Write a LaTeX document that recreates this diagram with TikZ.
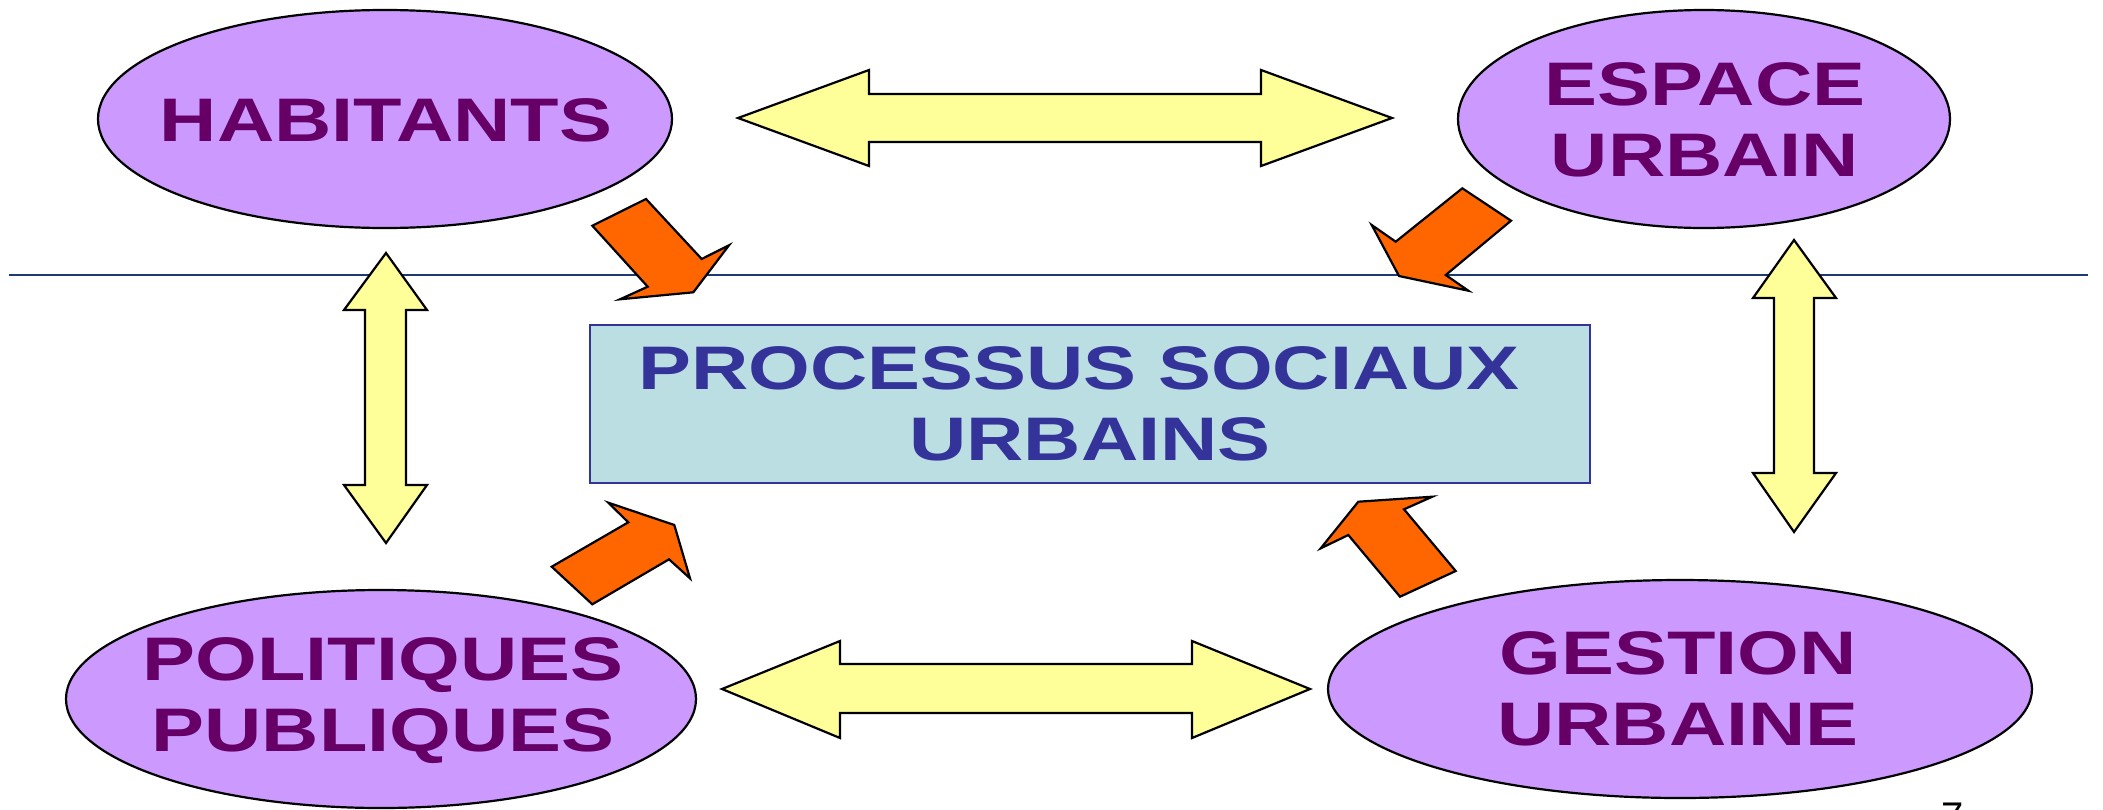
\documentclass[tikz,border=0pt]{standalone}
\usepackage{fontspec}
\setmainfont{Liberation Sans}
\usepackage{graphicx}
\definecolor{ellfill}{HTML}{CC99FF}
\definecolor{elltxt}{HTML}{660066}
\definecolor{rectfill}{HTML}{BBDEE3}
\definecolor{rectline}{HTML}{333399}
\definecolor{yfill}{HTML}{FFFF99}
\definecolor{ofill}{HTML}{FF6600}
\definecolor{rulecol}{HTML}{1F3A6E}
\newcommand{\widetxt}[1]{\scalebox{1.29}[1]{#1}}
\tikzset{
  ellbox/.style={draw=black, line width=2.2pt, fill=ellfill},
  elltext/.style={text=elltxt, font=\fontsize{61.5}{71}\selectfont\bfseries, align=center, inner sep=0pt},
  procbox/.style={draw=rectline, line width=2pt, fill=rectfill, inner sep=0pt,
    minimum width=1000pt, minimum height=158pt, text=rectline,
    font=\fontsize{61.5}{71}\selectfont\bfseries, align=center},
  ybar/.style={draw=black, line width=2.2pt, fill=yfill, line join=miter},
  oarrow/.style={draw=black, line width=2.2pt, fill=ofill, line join=miter},
}
\begin{document}
\begin{tikzpicture}[x=1pt,y=-1pt]
\useasboundingbox (0,0) rectangle (2103,809);
% horizontal rule
\coordinate (ruleL) at (9,275);
\coordinate (ruleR) at (2088,275);
\draw[rulecol, line width=1.5pt] (ruleL) -- (ruleR);

% ellipses
\coordinate (habc) at (385,119);
\coordinate (espc) at (1704,119);
\coordinate (polc) at (381,699);
\coordinate (gesc) at (1680,689);
\draw[ellbox] (habc) ellipse [x radius=287pt, y radius=109pt];
\draw[ellbox] (espc) ellipse [x radius=246pt, y radius=109pt];
\draw[ellbox] (polc) ellipse [x radius=315pt, y radius=109pt];
\draw[ellbox] (gesc) ellipse [x radius=352pt, y radius=109pt];
\node[elltext] (hab) at (386,120) {\widetxt{HABITANTS}};
\node[elltext] (esp) at (1705,120) {\widetxt{ESPACE}\\\widetxt{URBAIN}};
\node[elltext] (pol) at (383,701) {\widetxt{POLITIQUES}\\\widetxt{PUBLIQUES}};
\node[elltext] (ges) at (1678,689) {\widetxt{GESTION}\\\widetxt{URBAINE}};

% central box
\node[procbox] (proc) at (1090,403.5) {\widetxt{PROCESSUS SOCIAUX\ }\\\widetxt{URBAINS}};

% yellow double arrows
\draw[ybar] (738,118) -- (869,70) -- (869,94) -- (1261,94) -- (1261,70) -- (1392,118)
  -- (1261,166) -- (1261,142) -- (869,142) -- (869,166) -- cycle;
\draw[ybar] (722,689) -- (840,641) -- (840,664) -- (1192,664) -- (1192,641) -- (1310,689)
  -- (1192,738) -- (1192,713) -- (840,713) -- (840,738) -- cycle;
\draw[ybar] (386,253) -- (427,310) -- (406,310) -- (406,485) -- (427,485) -- (386,543)
  -- (344,485) -- (365,485) -- (365,310) -- (344,310) -- cycle;
\draw[ybar] (1794,240) -- (1836,298) -- (1814,298) -- (1814,473) -- (1836,473) -- (1794,532)
  -- (1753,473) -- (1774,473) -- (1774,298) -- (1753,298) -- cycle;

% orange arrows
\draw[oarrow] (592.3,225.7) -- (646,199) -- (701.7,259) -- (729,245.3) -- (693.3,292.3)
  -- (620,299.3) -- (647.7,286.7) -- cycle;
\draw[oarrow] (1462.3,188.3) -- (1511,220.7) -- (1445.7,275) -- (1468.3,290.7) -- (1399,276)
  -- (1371.7,225) -- (1395.7,241.7) -- cycle;
\draw[oarrow] (1400,596.7) -- (1455.7,571) -- (1404,509.3) -- (1432.3,496.7) -- (1358.3,501.7)
  -- (1320.7,548.3) -- (1348.3,535) -- cycle;
\draw[oarrow] (551.7,566.7) -- (592.3,604.3) -- (669,559.3) -- (690,578.3) -- (674.3,525)
  -- (608.3,502.7) -- (628.3,522.3) -- cycle;

% page number (cut off)
\node[anchor=north, inner sep=0pt, font=\fontsize{40}{48}\selectfont] (pgnum) at (1953,803) {7};
\end{tikzpicture}
\end{document}
